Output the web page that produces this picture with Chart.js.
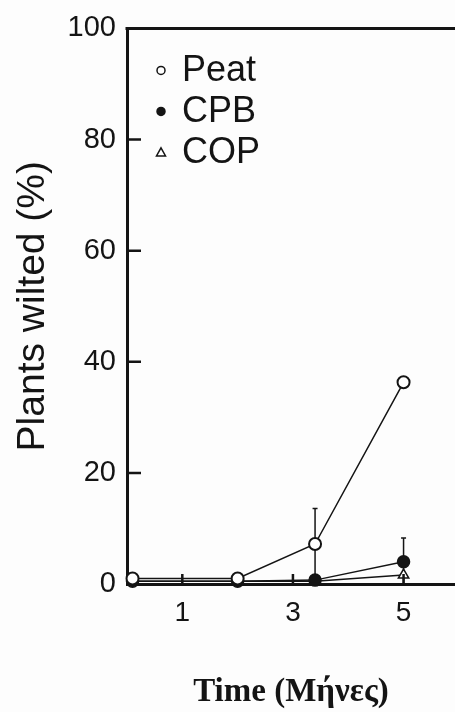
<!DOCTYPE html>
<html>
<head>
<meta charset="utf-8">
<script src="https://cdn.jsdelivr.net/npm/chart.js@4.4.0/dist/chart.umd.min.js"></script>
<style>
  html, body { margin: 0; padding: 0; background: #fdfdfd; }
  #wrap { width: 455px; height: 712px; }
</style>
</head>
<body>
<div id="wrap"><canvas id="wiltChart"></canvas></div>
<script>
// values
var months = [0.1, 2, 3.4, 5];
var peat = [1, 1, 7.2, 36.3];
var peatErr = [0, 0, 6.4, 0];
var cpb = [0.5, 0.5, 0.7, 4.0];
var cpbErr = [0, 0, 0, 4.3];
var cop = [0.5, 0.5, 0.5, 1.6];
var xTicks = [1, 3, 5];
var yTicks = [0, 20, 40, 60, 80, 100];

var ink = '#141414';

function toPoints(ys) {
    return months.map(function(m, i) { return {x: m, y: ys[i]}; });
}

// error bars, drawn under the markers
var errorBars = {
    id: 'errorBars',
    beforeDatasetsDraw: function(chart) {
        var ctx = chart.ctx, ys = chart.scales.y;
        chart.data.datasets.forEach(function(ds, i) {
            if (!ds.errors) return;
            var meta = chart.getDatasetMeta(i);
            meta.data.forEach(function(pt, j) {
                var e = ds.errors[j];
                if (!e) return;
                var v = ds.data[j].y;
                var top = ys.getPixelForValue(v + e);
                var bot = ys.getPixelForValue(Math.max(0, v - e));
                ctx.save();
                ctx.strokeStyle = ink;
                ctx.lineWidth = 1.5;
                ctx.beginPath();
                ctx.moveTo(pt.x, bot);
                ctx.lineTo(pt.x, top);
                ctx.moveTo(pt.x - 2.5, top);
                ctx.lineTo(pt.x + 2.5, top);
                ctx.stroke();
                ctx.restore();
            });
        });
    }
};

// inward tick marks, top frame line and the legend inside the plot
var frame = {
    id: 'frame',
    afterDraw: function(chart) {
        var ctx = chart.ctx, a = chart.chartArea;
        var xs = chart.scales.x, ys = chart.scales.y;
        ctx.save();
        ctx.strokeStyle = ink;
        ctx.lineWidth = 3;
        ctx.beginPath();
        ctx.moveTo(a.left - 1.5, a.top);
        ctx.lineTo(a.right, a.top);
        ctx.stroke();

        ctx.lineWidth = 2.5;
        ctx.beginPath();
        yTicks.forEach(function(v) {
            if (v === 0 || v === 100) return;
            var y = ys.getPixelForValue(v);
            ctx.moveTo(a.left, y);
            ctx.lineTo(a.left + 14, y);
        });
        xTicks.forEach(function(v) {
            var x = xs.getPixelForValue(v);
            ctx.moveTo(x, a.bottom);
            ctx.lineTo(x, a.bottom - 10);
        });
        ctx.stroke();

        // legend
        ctx.font = '36px "Liberation Sans", Arial, sans-serif';
        ctx.textBaseline = 'middle';
        ctx.fillStyle = ink;
        chart.data.datasets.forEach(function(ds, i) {
            var cy = a.top + 42 + i * 41;
            var cx = a.left + 34;
            ctx.lineWidth = 1.5;
            ctx.beginPath();
            if (ds.pointStyle === 'triangle') {
                ctx.moveTo(cx, cy - 4.5);
                ctx.lineTo(cx + 4.5, cy + 3.5);
                ctx.lineTo(cx - 4.5, cy + 3.5);
                ctx.closePath();
            } else {
                ctx.arc(cx, cy, 4, 0, Math.PI * 2);
            }
            ctx.fillStyle = ds.pointBackgroundColor;
            ctx.fill();
            ctx.stroke();
            ctx.fillStyle = ink;
            ctx.fillText(ds.label, a.left + 55, cy + 1);
        });
        ctx.restore();
    }
};

var ctx = document.getElementById('wiltChart').getContext('2d');

var wiltChart = new Chart(ctx, {
    type: 'line',
    data: {
        datasets: [{
            label: 'Peat',
            data: toPoints(peat),
            errors: peatErr,
            borderColor: ink,
            borderWidth: 1.5,
            pointStyle: 'circle',
            pointRadius: 6,
            pointBorderWidth: 2,
            pointBorderColor: ink,
            pointBackgroundColor: '#ffffff'
        }, {
            label: 'CPB',
            data: toPoints(cpb),
            errors: cpbErr,
            borderColor: ink,
            borderWidth: 1.5,
            pointStyle: 'circle',
            pointRadius: 6,
            pointBorderWidth: 1.5,
            pointBorderColor: ink,
            pointBackgroundColor: ink
        }, {
            label: 'COP',
            data: toPoints(cop),
            borderColor: ink,
            borderWidth: 1.5,
            pointStyle: 'triangle',
            pointRadius: 6,
            pointBorderWidth: 1.5,
            pointBorderColor: ink,
            pointBackgroundColor: '#ffffff'
        }]
    },
    options: {
        responsive: true,
        maintainAspectRatio: false,
        animation: false,
        devicePixelRatio: 1,
        clip: false,
        layout: {
            autoPadding: false,
            padding: { top: 25, right: 0, bottom: 0, left: 0 }
        },
        elements: { line: { tension: 0 } },
        plugins: {
            legend: { display: false },
            tooltip: { enabled: false }
        },
        scales: {
            x: {
                type: 'linear',
                min: 0,
                max: 5.93,
                afterBuildTicks: function(scale) {
                    scale.ticks = xTicks.map(function(v) { return {value: v}; });
                },
                afterFit: function(scale) {
                    scale.height = 128;
                    scale.paddingLeft = 0;
                    scale.paddingRight = 0;
                },
                grid: { display: false, drawTicks: false },
                border: { display: true, color: ink, width: 3 },
                ticks: {
                    color: ink,
                    padding: 12,
                    maxRotation: 0,
                    font: { family: '"Liberation Sans", Arial, sans-serif', size: 28 }
                },
                title: {
                    display: true,
                    text: 'Time (Μήνες)',
                    color: ink,
                    padding: { top: 0, bottom: 0 },
                    font: { family: '"Liberation Serif", "Times New Roman", serif', size: 33, weight: 'bold' }
                }
            },
            y: {
                min: 0,
                max: 100,
                afterBuildTicks: function(scale) {
                    scale.ticks = yTicks.map(function(v) { return {value: v}; });
                },
                afterFit: function(scale) { scale.width = 127; },
                grid: { display: false, drawTicks: false },
                border: { display: true, color: ink, width: 3 },
                ticks: {
                    color: ink,
                    padding: 11,
                    font: { family: '"Liberation Sans", Arial, sans-serif', size: 29 }
                },
                title: {
                    display: true,
                    text: 'Plants wilted (%)',
                    color: ink,
                    padding: { top: 10, bottom: 0 },
                    font: { family: '"Liberation Sans", Arial, sans-serif', size: 39 }
                }
            }
        }
    },
    plugins: [errorBars, frame]
});
</script>
</body>
</html>
